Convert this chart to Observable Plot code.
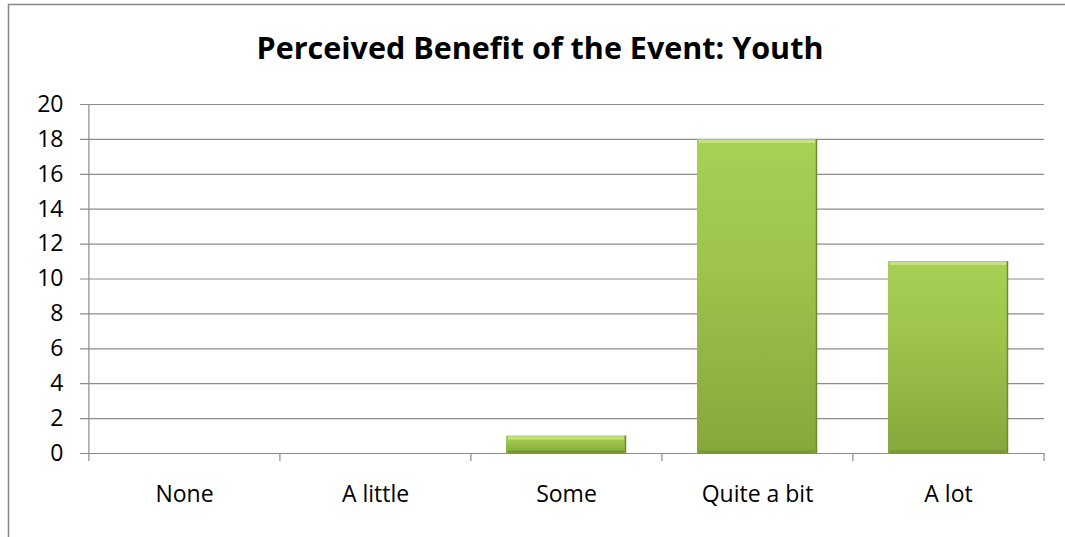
<!DOCTYPE html>
<html>
<head>
<meta charset="utf-8">
<script src="https://cdn.jsdelivr.net/npm/d3@7"></script>
<script src="https://cdn.jsdelivr.net/npm/@observablehq/plot@0.6"></script>
<style>
  html, body { margin: 0; padding: 0; background: #fff; }
  #chart svg { display: block; }
</style>
</head>
<body>
<div id="chart"></div>
<script>
// Survey responses: perceived benefit of the event (youth)
const categories = ["None", "A little", "Some", "Quite a bit", "A lot"];
const counts = [0, 0, 1, 18, 11];
const yTicks = [0, 2, 4, 6, 8, 10, 12, 14, 16, 18, 20];
const title = "Perceived Benefit of the Event: Youth";

const data = categories.map((c, i) => ({category: c, count: counts[i]}));
const bars = data.filter(d => d.count > 0);

const W = 1065, H = 537;
const mL = 88, mR = 21, mT = 104, mB = 84;
const step = (W - mL - mR) / categories.length;
const grid = "#8c8c8c";
const font = "'Open Sans', sans-serif";

const chart = Plot.plot({
  width: W,
  height: H,
  marginLeft: mL,
  marginRight: mR,
  marginTop: mT,
  marginBottom: mB,
  style: {fontFamily: font, fontSize: "23px", color: "#000", background: "#fff"},
  x: {domain: categories, paddingInner: 0.37, paddingOuter: 0.185, label: null},
  y: {domain: [0, 20], label: null},
  marks: [
    // horizontal gridlines with short tick stubs on the left
    Plot.ruleY(yTicks, {stroke: grid, strokeWidth: 1.2, insetLeft: -8}),
    // category boundary ticks below the baseline
    Plot.ruleX(categories, {x: d => d, y1: 0, y2: 0, dx: -step / 2, insetBottom: -8, stroke: grid, strokeWidth: 1.2}),
    Plot.ruleX([categories[categories.length - 1]], {y1: 0, y2: 0, dx: step / 2, insetBottom: -8, stroke: grid, strokeWidth: 1.2}),
    // vertical axis line
    Plot.ruleX([categories[0]], {dx: -step / 2, y1: 0, y2: 20, stroke: grid, strokeWidth: 1.2}),
    // bars with a soft shadow
    Plot.barY(bars, {x: "category", y: "count", fill: "url(#barGrad)", style: {filter: "url(#shadow)"}}),
    // bevel: light top edge, dark bottom and right edges
    Plot.tickY(bars, {x: "category", y: "count", stroke: "#c6e47e", strokeWidth: 3, dy: 2, insetLeft: 2, insetRight: 2}),
    Plot.tickY(bars, {x: "category", y: 0, stroke: "#76963a", strokeWidth: 3, dy: -1.5, insetLeft: 2, insetRight: 2}),
    Plot.ruleX(bars, {x: "category", y1: 0, y2: "count", dx: 59, stroke: "#6e8a2f", strokeWidth: 1.5}),
    Plot.axisY(yTicks, {tickSize: 0, tickPadding: 25, fontSize: 23}),
    Plot.axisX({tickSize: 0, tickPadding: 32, fontSize: 23})
  ]
});

// bar gradient, shadow filter, outer chart border and title
const svg = d3.select(chart);
const defs = svg.insert("defs", ":first-child");
const g = defs.append("linearGradient").attr("id", "barGrad")
  .attr("x1", 0).attr("y1", 0).attr("x2", 0).attr("y2", 1);
g.append("stop").attr("offset", "0%").attr("stop-color", "#a8d055");
g.append("stop").attr("offset", "45%").attr("stop-color", "#9cc24a");
g.append("stop").attr("offset", "100%").attr("stop-color", "#86a73c");
const f = defs.append("filter").attr("id", "shadow")
  .attr("x", "-10%").attr("y", "-10%").attr("width", "130%").attr("height", "130%");
f.append("feDropShadow").attr("dx", 3).attr("dy", 2).attr("stdDeviation", 2)
  .attr("flood-color", "#000").attr("flood-opacity", 0.25);

svg.append("rect")
  .attr("x", 8.5).attr("y", 4.5)
  .attr("width", W + 40).attr("height", H + 40)
  .attr("fill", "none").attr("stroke", "#868686").attr("stroke-width", 1.5);

svg.append("text")
  .attr("x", 540).attr("y", 59)
  .attr("text-anchor", "middle")
  .attr("font-family", font)
  .attr("font-weight", "bold")
  .attr("font-size", 30.5)
  .attr("fill", "#000")
  .text(title);

document.getElementById("chart").appendChild(chart);
</script>
</body>
</html>
